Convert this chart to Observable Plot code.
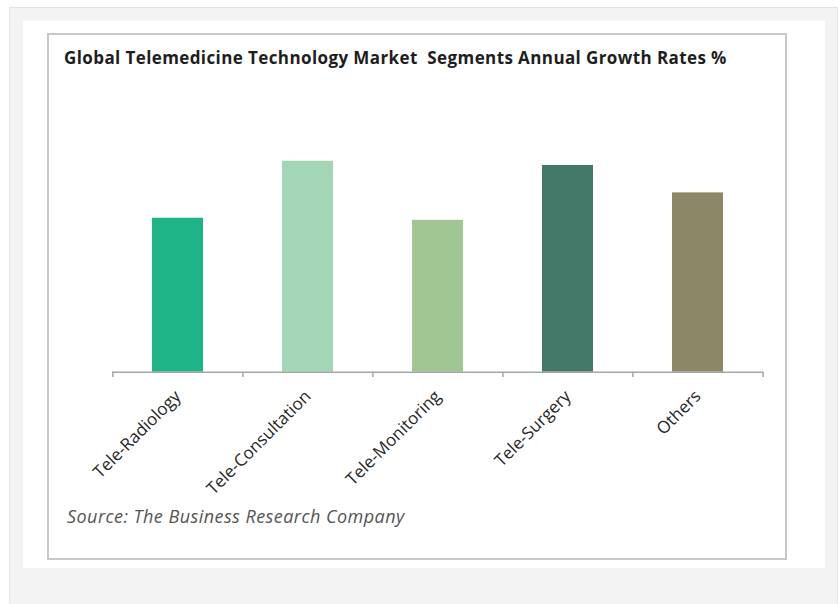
<!DOCTYPE html>
<html><head><meta charset="utf-8">
<script src="https://cdn.jsdelivr.net/npm/d3@7"></script>
<script src="https://cdn.jsdelivr.net/npm/@observablehq/plot@0.6"></script>
<style>
html,body{margin:0;padding:0;background:#fff;width:839px;height:604px;overflow:hidden;font-family:"Open Sans",sans-serif}
#outer{position:absolute;left:9px;top:7px;width:827px;height:597px;background:#f3f3f3;border-left:1px solid #e2e2e2;border-top:1px solid #e2e2e2;border-right:1px solid #e6e6e6}
#inner{position:absolute;left:23px;top:21px;width:802px;height:547px;background:#fff}
#box{position:absolute;left:47px;top:33px;width:736px;height:523px;border:2px solid #c8c8c8;background:#fff}
#chart{position:absolute;left:0;top:0}
#title{position:absolute;left:64px;top:49px;font-size:17px;letter-spacing:0.4px;line-height:1;font-weight:700;color:#1e1e1e;white-space:pre}
#source{position:absolute;left:67px;top:507px;font-size:18px;letter-spacing:0.45px;line-height:1;font-style:italic;color:#555;white-space:pre}
</style>
</head><body>
<div id="outer"></div>
<div id="inner"></div>
<div id="box"></div>
<div id="chart"></div>
<div id="title">Global Telemedicine Technology Market  Segments Annual Growth Rates %</div>
<div id="source">Source: The Business Research Company</div>
<script>
const categories = ["Tele-Radiology", "Tele-Consultation", "Tele-Monitoring", "Tele-Surgery", "Others"];
const growthRates = [14.6, 20.0, 14.4, 19.6, 17.0];
const barColors = ["#1fb488", "#a2d6b5", "#a1c593", "#44796a", "#8b8767"];

const data = categories.map((c, i) => ({category: c, value: growthRates[i], color: barColors[i]}));

const W = 839, H = 604, mL = 112, mR = 76, mT = 108, mB = 227;
const step = (W - mL - mR) / categories.length;

const chart = Plot.plot({
  width: W, height: H,
  marginLeft: mL, marginRight: mR, marginTop: mT, marginBottom: mB,
  style: {background: "transparent", fontFamily: "Open Sans, sans-serif", fontSize: "17px"},
  x: {domain: categories, paddingInner: 0.61, paddingOuter: 0.305, axis: null},
  y: {domain: [-0.5, 25], axis: null},
  marks: [
    Plot.barY(data, {x: "category", y1: 0, y2: "value", fill: "color"}),
    Plot.ruleY([0], {stroke: "#a6a6a6", strokeWidth: 1.5}),
    Plot.ruleX(categories, {x: d => d, y1: 0, y2: -0.5, dx: -step / 2, stroke: "#a6a6a6", strokeWidth: 1.5}),
    Plot.ruleX(categories.slice(-1), {x: d => d, y1: 0, y2: -0.5, dx: step / 2, stroke: "#a6a6a6", strokeWidth: 1.5}),
    Plot.axisX({tickSize: 0, tickRotate: -45, tickPadding: 16, fontSize: 17, fill: "#262626", textAnchor: "end", lineAnchor: "middle", label: null})
  ]
});
document.getElementById("chart").appendChild(chart);
</script>
</body></html>
